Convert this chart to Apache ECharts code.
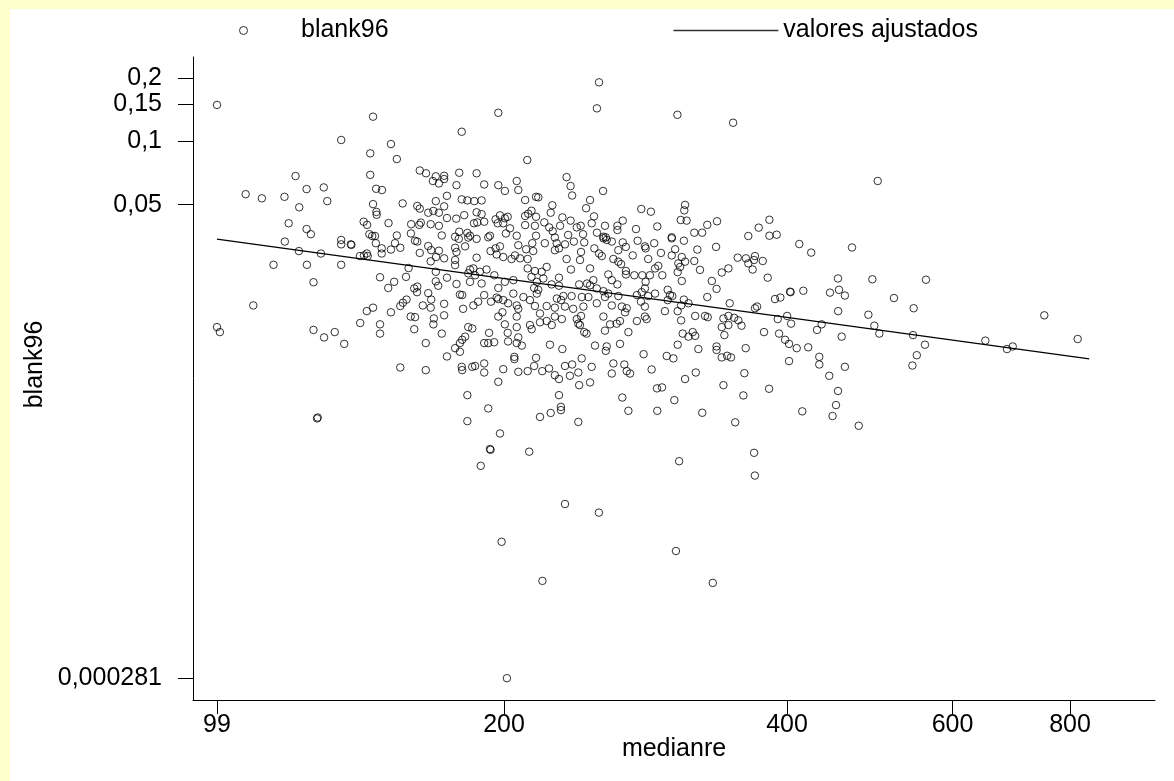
<!DOCTYPE html>
<html>
<head>
<meta charset="utf-8">
<script src="https://cdn.jsdelivr.net/npm/echarts@6/dist/echarts.min.js"></script>
<style>
  html, body { margin: 0; padding: 0; width: 100%; height: 100%; background: #ffffcc; }
  #paper { position: absolute; left: 10px; top: 9px; right: 0; bottom: 0; background: #fff; }
  #chart { position: absolute; left: 0; top: 0; width: 1174px; height: 781px; }
</style>
</head>
<body>
<div id="paper"></div>
<div id="chart"></div>
<script>
// axis ticks
const xTicks = [99, 200, 400, 600, 800];
const xTickLabels = ['99', '200', '400', '600', '800'];
const yTicks = [0.000281, 0.05, 0.1, 0.15, 0.2];
const yTickLabels = ['0,000281', '0,05', '0,1', '0,15', '0,2'];
const xRange = [93.35, 985.2];
const yRange = [0.0002213, 0.2517];

// fitted values (valores ajustados)
const fitMedianre = [99, 838.6];
const fitBlank96 = [0.0343, 0.00926];

// observations: [medianre, blank96]
const obs = [
  [99, 0.149], [145.1, 0.131], [134.2, 0.1015], [151.6, 0.0971], [144.1, 0.0877], [153.8, 0.0824],
  [120.0, 0.0684], [144.1, 0.0693], [162.7, 0.0727], [165.2, 0.0705], [169.2, 0.0682], [172.7, 0.0686],
  [168.0, 0.0648], [170.5, 0.0631], [172.7, 0.0662], [178.0, 0.0619], [106.2, 0.0561], [110.5, 0.0536],
  [116.8, 0.0545], [123.3, 0.0593], [128.6, 0.0604], [121.1, 0.0486], [129.7, 0.0520], [146.2, 0.0595],
  [148.3, 0.0587], [145.1, 0.0503], [146.3, 0.0462], [146.4, 0.0448], [156.0, 0.0507], [173.9, 0.0551],
  [169.2, 0.0520], [161.7, 0.0493], [162.7, 0.0479], [166.1, 0.0458], [168.2, 0.0467], [170.5, 0.0458],
  [172.7, 0.0491], [173.9, 0.0432], [177.9, 0.0429], [118.0, 0.0408], [123.3, 0.0383], [124.6, 0.0362],
  [141.8, 0.0415], [143.0, 0.0401], [150.7, 0.0409], [159.3, 0.0404], [162.5, 0.0401], [163.1, 0.0411],
  [167.1, 0.0404], [170.5, 0.0397], [143.8, 0.0362], [144.8, 0.0355], [145.8, 0.0355], [153.8, 0.0357],
  [159.2, 0.0365], [171.7, 0.0357], [177.4, 0.0352],
  [197.2, 0.1367], [180.3, 0.1111], [211.7, 0.0815], [179.2, 0.0709], [187.0, 0.0705], [190.5, 0.0624],
  [197.2, 0.0619], [200.4, 0.0581], [206.3, 0.0648], [207.1, 0.0587], [233.1, 0.0676], [235.4, 0.0613],
  [236.3, 0.0553], [180.3, 0.0530], [182.8, 0.0524], [185.9, 0.0520], [189.3, 0.0524], [210.6, 0.0526],
  [216.3, 0.0545], [217.5, 0.0542], [225.1, 0.0497], [244.5, 0.0481], [181.4, 0.0446], [187.0, 0.0460],
  [189.3, 0.0451], [185.8, 0.0408], [187.3, 0.0412], [190.5, 0.0415], [195.9, 0.0426], [198.0, 0.0445],
  [200.4, 0.0431], [201.8, 0.0438], [196.9, 0.0408], [199.6, 0.0408], [202.9, 0.0386], [210.6, 0.0442],
  [212.2, 0.0453], [213.9, 0.0468], [216.3, 0.0438], [210.6, 0.0400], [215.7, 0.0397], [220.7, 0.0412],
  [224.2, 0.0458], [223.4, 0.0390], [225.3, 0.0374], [230.7, 0.0435], [229.4, 0.0397], [235.4, 0.0420],
  [239.0, 0.0390], [241.3, 0.0397], [242.7, 0.0362], [234.0, 0.0359], [179.2, 0.0372], [182.8, 0.0367],
  [184.0, 0.0356], [193.2, 0.0356], [206.3, 0.0356], [216.3, 0.0356], [200.9, 0.0365],
  [252.4, 0.1908], [251.1, 0.1435], [305.8, 0.1337], [254.9, 0.0581], [246.9, 0.0526], [249.3, 0.0440],
  [247.9, 0.0408], [256.1, 0.0397], [264.0, 0.0397], [264.0, 0.0379], [267.5, 0.0420], [276.3, 0.0383],
  [279.9, 0.0477], [286.6, 0.0463], [291.1, 0.0394], [311.6, 0.0499], [311.0, 0.0470], [308.3, 0.0423],
  [312.8, 0.0420], [329.0, 0.0401], [337.0, 0.0417], [251.1, 0.0368], [255.1, 0.0352], [256.6, 0.0350],
  [318.7, 0.0368], [324.9, 0.0368], [301.6, 0.0350],
  [350.5, 0.1226], [499.5, 0.0648], [373.2, 0.0389], [383.1, 0.0424], [363.8, 0.0355], [383.1, 0.0356],
  [390.0, 0.0360],
  [116.9, 0.0334], [134.2, 0.0340], [134.2, 0.0324], [137.4, 0.0324], [137.6, 0.0322], [140.5, 0.0285],
  [141.9, 0.0287], [142.9, 0.0293], [143.2, 0.0285], [146.1, 0.0328], [148.2, 0.0310], [148.2, 0.0293],
  [151.6, 0.0306], [153.1, 0.0328], [155.1, 0.0312], [160.8, 0.0337], [161.7, 0.0334], [162.7, 0.0295],
  [166.1, 0.0318], [167.3, 0.0304], [170.5, 0.0302], [169.3, 0.0282], [172.7, 0.0278], [167.1, 0.0269],
  [177.4, 0.0312], [178.0, 0.0298], [177.4, 0.0273], [177.4, 0.0258], [121.0, 0.0301], [127.7, 0.0293],
  [113.7, 0.0259], [123.4, 0.0259], [134.2, 0.0259], [158.3, 0.0250], [169.2, 0.0240], [147.6, 0.0226],
  [152.8, 0.0215], [157.3, 0.0227], [150.6, 0.0201], [125.4, 0.0214], [160.5, 0.0200], [161.7, 0.0204],
  [161.6, 0.0192], [169.2, 0.0216], [170.2, 0.0206], [173.9, 0.0225], [178.0, 0.0210], [166.1, 0.0190],
  [167.3, 0.0177], [108.2, 0.0166], [145.1, 0.0162], [142.9, 0.0156], [151.6, 0.0154], [155.1, 0.0165],
  [156.1, 0.0171], [157.5, 0.0177], [163.9, 0.0166], [167.1, 0.0162], [172.7, 0.0169], [172.7, 0.0149],
  [159.1, 0.0147], [160.8, 0.0146], [168.4, 0.0144], [168.2, 0.0135], [160.5, 0.0128], [140.6, 0.0137],
  [147.6, 0.0135], [147.6, 0.0122], [171.7, 0.0122], [165.1, 0.0110], [99, 0.0131], [99.7, 0.0124],
  [125.4, 0.0127], [128.7, 0.0117], [132.1, 0.0124], [135.2, 0.0109], [173.9, 0.0095], [177.4, 0.0104],
  [155.1, 0.00842], [165.1, 0.00818], [126.7, 0.00487], [126.5, 0.00482],
  [179.0, 0.0344], [183.2, 0.0349], [187.0, 0.0344], [192.4, 0.0350], [221.0, 0.0328], [226.5, 0.0349],
  [237.3, 0.0334], [243.4, 0.0331], [227.5, 0.0328],
  [181.8, 0.0317], [193.5, 0.0301], [195.9, 0.0310], [198.0, 0.0317], [196.4, 0.0290], [199.6, 0.0282],
  [187.0, 0.0280], [203.7, 0.0276], [205.4, 0.0287], [208.0, 0.0278], [207.1, 0.0321], [211.1, 0.0307],
  [214.8, 0.0301], [214.3, 0.0328], [211.9, 0.0276], [226.5, 0.0304], [228.8, 0.0310], [232.2, 0.0324],
  [233.1, 0.0276], [241.5, 0.0298], [240.9, 0.0273],
  [184.0, 0.0246], [185.5, 0.0249], [183.2, 0.0236], [186.3, 0.0231], [188.5, 0.0240], [191.6, 0.0246],
  [189.3, 0.0211], [184.0, 0.0215], [195.3, 0.0231], [200.4, 0.0215], [204.6, 0.0219], [211.9, 0.0249],
  [215.7, 0.0242], [219.3, 0.0240], [222.0, 0.0253], [213.9, 0.0227], [220.2, 0.0223], [216.7, 0.0215],
  [228.8, 0.0225], [224.7, 0.0209], [228.8, 0.0206], [235.6, 0.0246], [240.4, 0.0209], [245.1, 0.0211],
  [179.5, 0.0187], [180.5, 0.0186], [197.2, 0.0201], [190.5, 0.0186], [196.4, 0.0181], [197.2, 0.0178],
  [199.6, 0.0176], [193.7, 0.0173], [187.7, 0.0173], [185.5, 0.0166], [180.9, 0.0160], [204.6, 0.0189],
  [209.7, 0.0182], [202.0, 0.0170], [206.3, 0.0166], [207.1, 0.0160], [215.3, 0.0201], [217.5, 0.0197],
  [216.7, 0.0189], [213.1, 0.0176], [215.7, 0.0165], [222.0, 0.0165], [227.6, 0.0179], [230.0, 0.0176],
  [231.3, 0.0184], [236.0, 0.0184], [226.5, 0.0162], [232.2, 0.0164], [236.9, 0.0160], [242.9, 0.0164],
  [242.0, 0.0182], [199.2, 0.0154], [197.2, 0.0147], [206.3, 0.0147],
  [218.4, 0.0152], [218.4, 0.0138], [226.5, 0.0147], [222.0, 0.0140], [230.4, 0.0143], [224.8, 0.0134],
  [213.1, 0.0134], [214.0, 0.0128], [200.4, 0.0135], [206.3, 0.0131], [183.2, 0.0131], [185.0, 0.0129],
  [239.0, 0.0143], [241.5, 0.0148], [239.9, 0.0136], [240.9, 0.0134], [243.4, 0.0124], [244.8, 0.0122],
  [192.8, 0.0123], [201.8, 0.0123], [207.1, 0.0117], [202.0, 0.0112], [206.3, 0.0110], [208.9, 0.0107],
  [181.8, 0.0118], [180.5, 0.0114], [179.5, 0.0110], [179.5, 0.0100], [190.5, 0.0110], [192.4, 0.0110],
  [195.2, 0.0111], [223.8, 0.0108], [230.7, 0.0103],
  [205.1, 0.00946], [205.1, 0.00923], [216.3, 0.00936], [180.3, 0.00848], [180.5, 0.00818], [185.0, 0.00848],
  [186.3, 0.00856], [190.5, 0.0088], [190.5, 0.00797], [199.6, 0.00827], [207.1, 0.00803], [211.9, 0.00809],
  [215.3, 0.00856], [219.6, 0.00809], [223.3, 0.00833], [226.5, 0.00774], [228.8, 0.00742], [232.2, 0.00856],
  [236.3, 0.0087], [241.9, 0.0093], [239.9, 0.00797], [235.0, 0.00769], [240.4, 0.00694], [197.2, 0.0072],
  [182.8, 0.00622], [228.8, 0.00622], [192.4, 0.00538], [229.9, 0.00547], [229.9, 0.00528], [224.2, 0.00512],
  [218.4, 0.0049], [182.8, 0.00468], [239.9, 0.00464], [198.0, 0.00409],
  [255.1, 0.0346], [257.2, 0.0340], [260.4, 0.0334], [267.5, 0.0331], [277.4, 0.0337], [282.4, 0.0317],
  [282.9, 0.0310], [288.9, 0.0328], [301.6, 0.0346], [310.7, 0.0337], [336.2, 0.0315], [249.5, 0.0310],
  [252.4, 0.0293], [254.1, 0.0285], [264.6, 0.0304], [269.5, 0.0315], [274.1, 0.0287], [284.7, 0.0276],
  [293.7, 0.0295], [304.1, 0.0307], [301.6, 0.0287], [309.1, 0.0282], [321.1, 0.0306], [318.7, 0.0270],
  [261.4, 0.0276], [264.6, 0.0268], [266.4, 0.0261], [246.9, 0.0249], [269.6, 0.0242], [269.6, 0.0233],
  [275.2, 0.0231], [280.6, 0.0231], [285.9, 0.0231], [289.5, 0.0249], [291.8, 0.0256], [294.7, 0.0231],
  [306.5, 0.0263], [307.8, 0.0253], [311.6, 0.0268], [306.0, 0.0239], [323.2, 0.0245], [309.1, 0.0217],
  [258.2, 0.0233], [260.4, 0.0219], [264.0, 0.0209], [248.9, 0.0219], [246.9, 0.0207], [251.0, 0.0200],
  [255.1, 0.0194], [258.2, 0.0189], [256.1, 0.0182], [264.6, 0.0184], [245.9, 0.0182], [282.9, 0.0215],
  [282.4, 0.0200], [280.2, 0.0192], [276.9, 0.0186], [284.7, 0.0184], [289.5, 0.0189], [298.6, 0.0197],
  [300.3, 0.0186], [302.0, 0.0184], [298.6, 0.0176], [310.7, 0.0177], [314.2, 0.0170], [308.6, 0.0166],
  [332.7, 0.0217], [336.6, 0.0199], [329.0, 0.0182], [279.7, 0.0173], [282.4, 0.0164], [260.4, 0.0166],
  [251.0, 0.0170], [266.9, 0.0164], [270.1, 0.0161], [269.0, 0.0154], [296.6, 0.0156], [306.0, 0.0156],
  [282.4, 0.0147], [283.6, 0.0143], [276.9, 0.0140], [265.7, 0.0140], [263.5, 0.0136], [255.1, 0.0147],
  [259.3, 0.0135], [256.1, 0.0126], [271.2, 0.0124], [319.4, 0.0148], [327.2, 0.0148], [329.4, 0.0146],
  [308.6, 0.0141], [309.8, 0.0122], [317.5, 0.0124], [319.4, 0.0119], [314.2, 0.0118], [249.9, 0.0107],
  [257.2, 0.0106], [256.6, 0.0101], [265.7, 0.0109], [306.0, 0.0108], [321.9, 0.0103], [336.6, 0.0106],
  [336.6, 0.0102], [281.5, 0.00974], [297.9, 0.00955], [302.8, 0.0093], [261.4, 0.0088], [247.9, 0.00848],
  [268.5, 0.0087], [270.1, 0.00809], [272.3, 0.00788], [260.4, 0.00788], [287.1, 0.00824], [311.6, 0.00742],
  [319.9, 0.00797], [246.9, 0.00715], [290.9, 0.0067], [294.5, 0.00677], [267.2, 0.00606], [303.5, 0.00589],
  [271.2, 0.00524], [291.1, 0.00524], [325.0, 0.00513],
  [412.2, 0.0325], [424.4, 0.0296], [469.0, 0.0313], [354.5, 0.0280], [361.7, 0.0278], [369.8, 0.0285],
  [368.9, 0.0273], [363.8, 0.0263], [376.9, 0.0270], [367.7, 0.0246], [346.5, 0.0249], [340.9, 0.0238],
  [381.5, 0.0225], [453.2, 0.0223], [493.0, 0.0221], [562.2, 0.0220], [403.0, 0.0193], [403.5, 0.0192],
  [416.3, 0.0195], [444.4, 0.0191], [454.3, 0.0197], [460.9, 0.0185], [519.8, 0.0180], [388.4, 0.0178],
  [393.5, 0.0181], [347.6, 0.0170], [369.8, 0.0161], [371.7, 0.0164], [453.4, 0.0156], [545.5, 0.0161],
  [751.2, 0.0149], [488.2, 0.0150], [342.3, 0.0144], [346.5, 0.0148], [351.4, 0.0145], [355.0, 0.0141],
  [357.8, 0.0133], [346.5, 0.0134], [340.9, 0.0131], [343.1, 0.0120], [391.0, 0.0143], [400.1, 0.0148],
  [404.0, 0.0136], [435.4, 0.0135], [430.5, 0.0127], [378.1, 0.0124], [392.3, 0.0122], [398.1, 0.0114],
  [402.0, 0.0109], [409.6, 0.0104], [421.3, 0.0105], [361.5, 0.0104], [457.3, 0.0118], [495.4, 0.0133],
  [501.5, 0.0122], [544.6, 0.0120], [560.8, 0.0108], [549.7, 0.00963], [543.8, 0.0086], [650.2, 0.0113],
  [685.6, 0.0103], [695.3, 0.0106], [815.2, 0.0115], [340.9, 0.0094], [345.4, 0.00957], [348.7, 0.0094],
  [402.0, 0.00903], [432.9, 0.00946], [432.9, 0.0087], [460.9, 0.00848], [360.3, 0.00791], [443.6, 0.00769],
  [342.3, 0.00694], [359.4, 0.0062], [382.8, 0.00667], [453.2, 0.00651], [451.0, 0.00558], [415.2, 0.00521],
  [447.2, 0.00495], [352.3, 0.00462], [476.8, 0.00445],
  [193.2, 0.00345], [193.5, 0.00342], [212.7, 0.00335], [188.9, 0.00287], [307.1, 0.00302], [369.0, 0.00331],
  [369.7, 0.00258], [232.2, 0.00189], [252.3, 0.00172], [198.8, 0.00125], [304.7, 0.00113], [219.7, 0.000815],
  [333.5, 0.000797], [201.4, 0.000281]
];

const lg = Math.log10;
const font = "'Liberation Sans', Arial, sans-serif";

function tickLabel(ticks, labels) {
  return function (v) {
    for (let i = 0; i < ticks.length; i++) {
      if (Math.abs(lg(ticks[i]) - v) < 1e-6) return labels[i];
    }
    return '';
  };
}

const chart = echarts.init(document.getElementById('chart'), null, { renderer: 'canvas' });

chart.setOption({
  animation: false,
  backgroundColor: 'transparent',
  textStyle: { fontFamily: font },
  grid: { left: 193, right: 19, top: 57, bottom: 81 },
  legend: {
    left: 234,
    top: 13,
    itemWidth: 105,
    itemHeight: 8,
    itemGap: 284,
    selectedMode: false,
    textStyle: { fontSize: 25, color: '#000', fontFamily: font },
    data: [
      { name: 'blank96', icon: 'circle', itemStyle: { color: 'transparent', borderColor: '#000', borderWidth: 1 } },
      {
        name: 'valores ajustados',
        itemStyle: { color: 'transparent', borderWidth: 0, opacity: 0 },
        lineStyle: { color: '#333', width: 1.6 }
      }
    ]
  },
  xAxis: {
    type: 'value',
    min: lg(xRange[0]),
    max: lg(xRange[1]),
    name: 'medianre',
    nameLocation: 'middle',
    nameGap: 37,
    nameMoveOverlap: false,
    nameTextStyle: { fontSize: 25, color: '#000', fontFamily: font },
    axisLine: { onZero: false, lineStyle: { color: '#000', width: 1 } },
    axisTick: { customValues: xTicks.map(lg), length: 14, lineStyle: { color: '#000', width: 1 } },
    axisLabel: {
      customValues: xTicks.map(lg), interval: 0, margin: 13,
      fontSize: 25, color: '#000', fontFamily: font,
      formatter: tickLabel(xTicks, xTickLabels)
    },
    splitLine: { show: false }
  },
  yAxis: {
    type: 'value',
    min: lg(yRange[0]),
    max: lg(yRange[1]),
    name: 'blank96',
    nameLocation: 'middle',
    nameGap: 145,
    nameRotate: 90,
    nameMoveOverlap: false,
    nameTextStyle: { fontSize: 25, color: '#000', fontFamily: font, padding: [0, 0, 0, 28] },
    axisLine: { onZero: false, lineStyle: { color: '#000', width: 1 } },
    axisTick: { customValues: yTicks.map(lg), length: 15, lineStyle: { color: '#000', width: 1 } },
    axisLabel: {
      customValues: yTicks.map(lg), interval: 0, margin: 31,
      fontSize: 25, color: '#000', fontFamily: font,
      formatter: tickLabel(yTicks, yTickLabels)
    },
    splitLine: { show: false }
  },
  series: [
    {
      name: 'blank96',
      type: 'scatter',
      symbol: 'circle',
      symbolSize: 7.5,
      silent: true,
      itemStyle: { color: 'transparent', borderColor: '#000', borderWidth: 1 },
      emphasis: { disabled: true },
      data: obs.map(p => [lg(p[0]), lg(p[1])])
    },
    {
      name: 'valores ajustados',
      type: 'line',
      symbol: 'none',
      silent: true,
      itemStyle: { color: '#000' },
      lineStyle: { color: '#000', width: 1.2 },
      emphasis: { disabled: true },
      data: fitMedianre.map((x, i) => [lg(x), lg(fitBlank96[i])])
    }
  ]
});
</script>
</body>
</html>
